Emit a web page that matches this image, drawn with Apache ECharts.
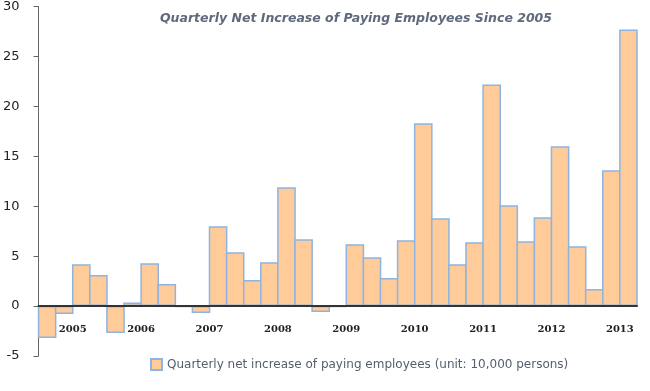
<!DOCTYPE html>
<html>
<head>
<meta charset="utf-8">
<script src="https://cdn.jsdelivr.net/npm/echarts@6/dist/echarts.min.js"></script>
<style>html,body{margin:0;padding:0;background:#fff}#c{width:650px;height:391px}</style>
</head>
<body>
<div id="c"></div>
<script>
var years = ['2005','2006','2007','2008','2009','2010','2011','2012','2013'];
var quarters = ['Q1','Q2','Q3','Q4'];
var values = [
  -3.2, -0.8, 4.2, 3.1,
  -2.7, 0.35, 4.3, 2.2,
  -0.1, -0.7, 8.0, 5.4,
  2.6, 4.4, 11.9, 6.7,
  -0.6, -0.1, 6.2, 4.9,
  2.8, 6.6, 18.3, 8.8,
  4.2, 6.4, 22.2, 10.1,
  6.5, 8.9, 16.0, 6.0,
  1.7, 13.6, 27.7
];
var yTicks = [-5, 0, 5, 10, 15, 20, 25, 30];
var seriesName = 'Quarterly net increase of paying employees (unit: 10,000 persons)';
var titleText = 'Quarterly Net Increase of Paying Employees Since 2005';

var categories = values.map(function (v, i) {
  return years[Math.floor(i / 4)] + ' ' + quarters[i % 4];
});

var W = 650, GL = 36, GR = 13, BW = 1.5;
var catW = (W - GL - GR) / categories.length;

var chart = echarts.init(document.getElementById('c'));
chart.setOption({
  animation: false,
  title: {
    text: titleText,
    left: 351, top: 7, textAlign: 'center',
    textStyle: { fontFamily: 'DejaVu Sans', fontStyle: 'italic', fontWeight: 600, fontSize: 12.5, color: '#5f697c' }
  },
  legend: {
    bottom: 15, left: 145,
    itemWidth: 11, itemHeight: 11, itemGap: 5,
    textStyle: { fontFamily: 'DejaVu Sans', fontSize: 12, color: '#555e6e' },
    data: [{ name: seriesName, icon: 'rect' }]
  },
  grid: { left: GL, right: GR, top: 6, bottom: 35 },
  xAxis: {
    type: 'category',
    data: categories,
    offset: -50,
    z: 10,
    axisLine: { onZero: false, lineStyle: { color: '#333', width: 2 } },
    axisTick: { interval: 3, length: 5, lineStyle: { color: '#333', width: 2 } },
    axisLabel: {
      interval: function (i) { return i % 4 === 1 || (i === 33); },
      formatter: function (v, i) { return v.split(' ')[0]; },
      padding: [0, 0, 0, 17],
      margin: 18,
      fontFamily: 'DejaVu Serif', fontWeight: 'bold', fontSize: 10, color: '#222'
    }
  },
  yAxis: {
    type: 'value', min: yTicks[0], max: yTicks[yTicks.length - 1], interval: 5,
    splitLine: { show: false },
    axisLine: { show: true, lineStyle: { color: '#666', width: 1 } },
    axisTick: { show: true, length: 5, lineStyle: { color: '#666' } },
    axisLabel: { margin: 19, fontFamily: 'DejaVu Sans', fontSize: 13, color: '#222' }
  },
  series: [{
    name: seriesName,
    type: 'bar',
    data: values,
    barWidth: catW + BW,
    barGap: '-' + (BW / (catW + BW) * 100).toFixed(2) + '%',
    barCategoryGap: '0%',
    itemStyle: { color: '#ffcc99', borderColor: '#8db4e2', borderWidth: BW }
  }]
});
</script>
</body>
</html>
